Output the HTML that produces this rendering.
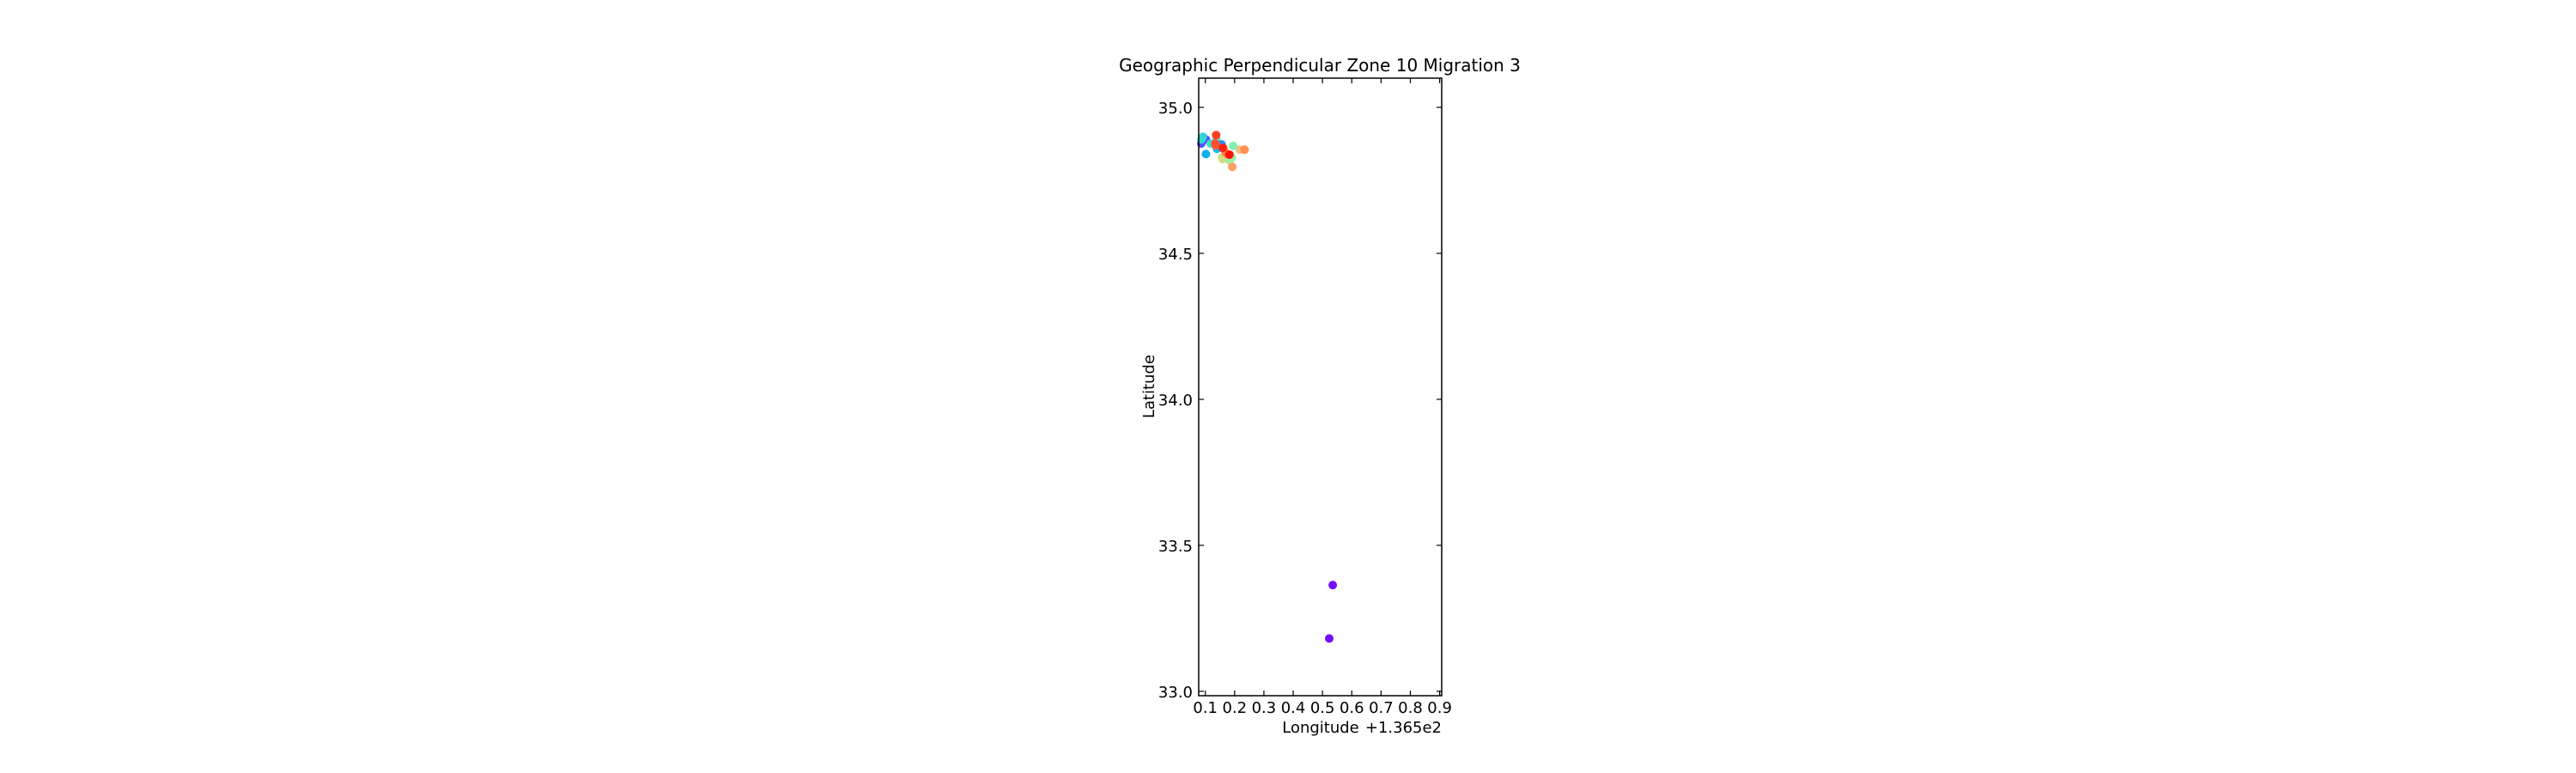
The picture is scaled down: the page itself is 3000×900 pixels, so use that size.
<!DOCTYPE html>
<html><head><meta charset="utf-8"><style>
html,body{margin:0;padding:0;background:#fff;}
svg{display:block;font-family:"DejaVu Sans","Liberation Sans",sans-serif;}
</style></head><body>
<svg id="chart" width="3000" height="900" viewBox="0 0 3000 900" xmlns="http://www.w3.org/2000/svg">
<rect x="0" y="0" width="3000" height="900" fill="#fff"/>
<text x="1537" y="83" font-size="20" text-anchor="middle" fill="#000">Geographic Perpendicular Zone 10 Migration 3</text>
<g id="marks"></g>
<rect x="1396" y="91" width="283" height="719" fill="none" stroke="#000" stroke-width="1.5"/>
<g id="axes"></g>
<text x="1538" y="853" font-size="18" text-anchor="middle">Longitude</text>
<text x="1679" y="853" font-size="18" text-anchor="end">+1.365e2</text>
<text x="0" y="0" font-size="18" text-anchor="middle" transform="translate(1344,450) rotate(-90)">Latitude</text>
</svg>
<script>
const lons=[0.086,0.102,0.092,0.087,0.102,0.118,0.138,0.14,0.156,0.164,0.157,0.159,0.178,0.185,0.19,0.183,0.195,0.192,0.218,0.234,0.169,0.137,0.135,0.134,0.160,0.182,0.535,0.523];
const lats=[34.876,34.89,34.899,34.89,34.84,34.876,34.89,34.858,34.873,34.858,34.829,34.823,34.827,34.837,34.827,34.818,34.868,34.796,34.855,34.855,34.845,34.905,34.87,34.876,34.861,34.838,33.364,33.181];
const colors=["#5050ff","#6040ff","#30d0d8","#30d8d0","#10b0f0","#40e0c8","#60e0c0","#10b8e8","#3090f0","#c0e080","#d0e080","#d0e080","#f8c080","#80f0a0","#90f0a0","#a0f0a0","#80f0b0","#ffa060","#f0c080","#ff9050","#ff8050","#ff4020","#ff6040","#ff5030","#ff2010","#ff1000","#7010ff","#7010ff"];
const xTicks=[0.1,0.2,0.3,0.4,0.5,0.6,0.7,0.8,0.9];
const xTickLabels=["0.1","0.2","0.3","0.4","0.5","0.6","0.7","0.8","0.9"];
const yTicks=[33.0,33.5,34.0,34.5,35.0];
const yTickLabels=["33.0","33.5","34.0","34.5","35.0"];
const X0=1396,X1=1679,Y0=91,Y1=810,xmin=0.0774,xmax=0.907,ymin=32.985,ymax=35.1;
function sx(v){return X0+(v-xmin)/(xmax-xmin)*(X1-X0);}
function sy(v){return Y1-(v-ymin)/(ymax-ymin)*(Y1-Y0);}
const NS="http://www.w3.org/2000/svg";
const marks=document.getElementById('marks');
lons.forEach((lo,i)=>{
  const c=document.createElementNS(NS,'circle');
  c.setAttribute('cx',sx(lo));c.setAttribute('cy',sy(lats[i]));c.setAttribute('r',5);c.setAttribute('fill',colors[i]);
  
  
  marks.appendChild(c);
});
const axes=document.getElementById('axes');
function line(x1,y1,x2,y2){const l=document.createElementNS(NS,'line');l.setAttribute('x1',x1);l.setAttribute('y1',y1);l.setAttribute('x2',x2);l.setAttribute('y2',y2);l.setAttribute('stroke','#000');l.setAttribute('stroke-width','1.2');


axes.appendChild(l);}
function text(x,y,s,anchor,name){const t=document.createElementNS(NS,'text');t.setAttribute('x',x);t.setAttribute('y',y);t.setAttribute('font-size','18');t.setAttribute('text-anchor',anchor);t.textContent=s;


axes.appendChild(t);}
xTicks.forEach((v,i)=>{const x=sx(v);line(x,Y1,x,Y1-6);line(x,Y0,x,Y0+6);text(x,830,xTickLabels[i],'middle','x-tick-label');});
yTicks.forEach((v,i)=>{const y=sy(v);line(X0,y,X0+6,y);line(X1,y,X1-6,y);text(1389,y+7,yTickLabels[i],'end','y-tick-label');});
</script>
</body></html>
